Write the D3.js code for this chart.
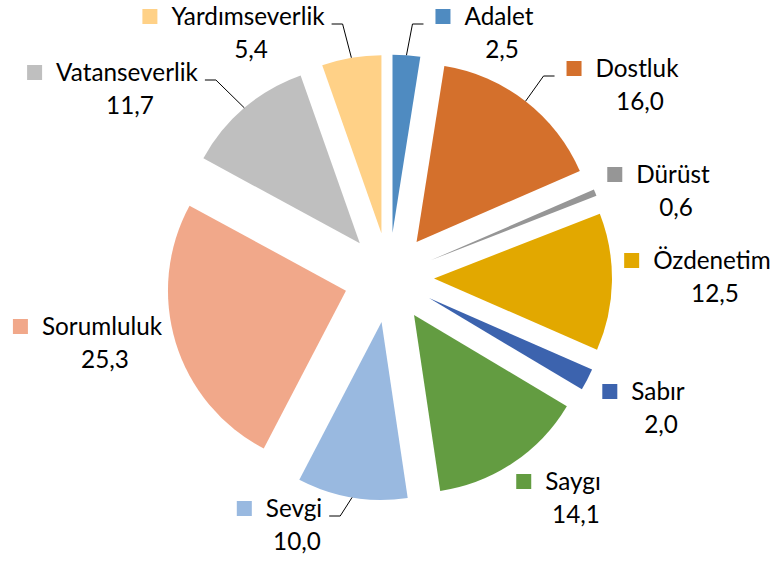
<!DOCTYPE html>
<html><head><meta charset="utf-8">
<script src="https://cdn.jsdelivr.net/npm/d3@7"></script>
<style>html,body{margin:0;padding:0;background:#fff;} svg{display:block;}</style>
</head><body>
<svg id="chart" width="773" height="561"></svg>
<script>
// ---- data ----
const categories = ["Adalet","Dostluk","Dürüst","Özdenetim","Sabır","Saygı","Sevgi","Sorumluluk","Vatanseverlik","Yardımseverlik"];
const values = [2.5, 16.0, 0.6, 12.5, 2.0, 14.1, 10.0, 25.3, 11.7, 5.4];
// ---- style / layout ----
const colors = ["#4F8BC1","#D4702C","#969696","#E2A800","#3C63AE","#639C41","#99B9E0","#F1A88A","#BFBFBF","#FFD187"];
const labelPos = [[502,25],[640,77],[676,183],[715,269],[661,400],[576,490],[297,517],[105,335],[130,81],[251,25]];
const leaderSide = ["L","L",null,null,null,null,"R",null,"R","R"];

const W = 773, H = 561, cx = 389, cy = 277.5, R = 178, explode = 45;
const fontSize = 24.3, fontFamily = "Lato, 'Open Sans', sans-serif";

const svg = d3.select("#chart");
const fmt = d3.formatLocale({decimal:",", thousands:".", grouping:[3], currency:["",""]}).format(".1f");

const pie = d3.pie().sort(null).value(d => d)(values);
const arc = d3.arc().innerRadius(0).outerRadius(R);
const mid = d => (d.startAngle + d.endAngle) / 2;

const g = svg.append("g").attr("transform", `translate(${cx},${cy})`);
g.selectAll("path.slice").data(pie).join("path")
  .attr("class","slice")
  .attr("d", arc)
  .attr("transform", d => `translate(${explode*Math.sin(mid(d))},${-explode*Math.cos(mid(d))})`)
  .attr("fill", (d,i) => colors[i]);

const lab = svg.append("g").attr("font-family", fontFamily).attr("font-size", fontSize).attr("fill", "#000");
pie.forEach((d, i) => {
  const [lx, ly] = labelPos[i];
  const name = lab.append("text").attr("x", lx - 3).attr("y", ly).attr("text-anchor","middle").text(categories[i]);
  const w = name.node().getComputedTextLength();
  const left = lx - 3 - w/2, right = lx - 3 + w/2;
  const swX = left - 14 - 15;
  lab.append("rect").attr("x", swX).attr("y", ly - 16).attr("width", 15).attr("height", 15).attr("fill", colors[i]);
  lab.append("text").attr("x", lx).attr("y", ly + 33).attr("text-anchor","middle").text(fmt(values[i]));
  if (leaderSide[i]) {
    const a = mid(d);
    const ex = cx + (explode + R) * Math.sin(a), ey = cy - (explode + R) * Math.cos(a);
    let x1, x2;
    if (leaderSide[i] === "L") { x1 = swX - 12; x2 = x1 - 11; }
    else { x1 = right + 7; x2 = x1 + 11; }
    const y = ly - 1;
    svg.append("path").attr("d", `M${x1},${y}L${x2},${y}L${ex},${ey}`)
      .attr("fill","none").attr("stroke","#000").attr("stroke-width",1);
  }
});
</script>
</body></html>
